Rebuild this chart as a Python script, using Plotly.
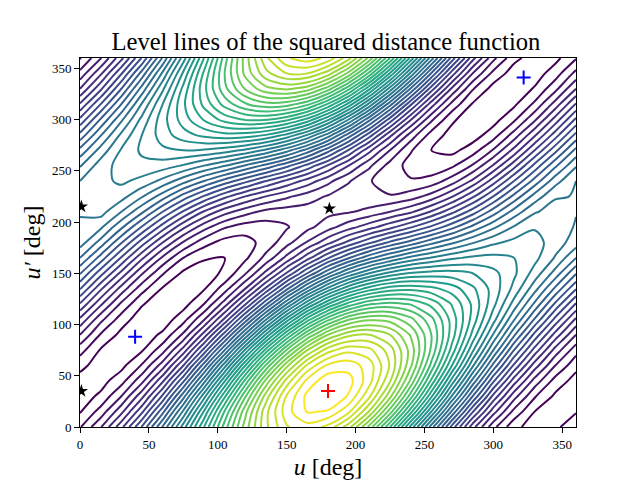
import plotly.graph_objects as go

u_deg = list(range(0, 361, 15))
up_deg = list(range(0, 361, 15))

# squared distance in units of one contour step, rows are u', columns are u
dist2 = [
    [1.9, 3.9, 6.7, 10.1, 14.1, 18.5, 23.0, 27.5, 31.5, 34.8, 36.9, 37.6, 36.7, 34.4, 30.7, 26.0, 20.7, 15.5, 10.6, 6.4, 3.3, 1.3, 0.5, 0.7, 1.9],
    [0.9, 2.4, 4.7, 7.8, 11.7, 16.2, 21.1, 26.1, 30.7, 34.7, 37.6, 39.1, 38.9, 37.2, 33.9, 29.5, 24.4, 19.0, 13.8, 9.1, 5.4, 2.7, 1.0, 0.5, 0.9],
    [0.5, 1.2, 3.0, 5.7, 9.2, 13.6, 18.6, 23.8, 28.9, 33.5, 37.1, 39.3, 39.9, 38.9, 36.2, 32.3, 27.5, 22.2, 16.9, 12.0, 7.7, 4.4, 2.1, 0.8, 0.5],
    [0.6, 0.6, 1.6, 3.7, 6.8, 10.8, 15.6, 20.9, 26.3, 31.3, 35.4, 38.3, 39.7, 39.4, 37.4, 34.1, 29.8, 24.8, 19.6, 14.7, 10.2, 6.5, 3.6, 1.6, 0.6],
    [1.3, 0.5, 0.7, 2.1, 4.5, 8.0, 12.5, 17.6, 23.0, 28.2, 32.7, 36.2, 38.2, 38.6, 37.5, 34.9, 31.2, 26.7, 22.0, 17.2, 12.7, 8.8, 5.5, 3.0, 1.3],
    [2.4, 0.9, 0.4, 0.9, 2.6, 5.4, 9.3, 14.0, 19.2, 24.4, 29.1, 33.0, 35.6, 36.7, 36.3, 34.5, 31.6, 27.8, 23.6, 19.2, 15.0, 11.0, 7.6, 4.6, 2.4],
    [4.0, 1.9, 0.7, 0.4, 1.2, 3.2, 6.4, 10.5, 15.2, 20.2, 24.9, 29.0, 32.0, 33.7, 34.0, 33.0, 30.9, 28.0, 24.5, 20.7, 16.9, 13.2, 9.7, 6.6, 4.0],
    [5.8, 3.3, 1.5, 0.4, 0.4, 1.6, 3.9, 7.2, 11.4, 15.9, 20.4, 24.5, 27.7, 29.9, 30.8, 30.6, 29.3, 27.3, 24.6, 21.6, 18.4, 15.1, 11.9, 8.7, 5.8],
    [7.9, 5.2, 2.8, 1.1, 0.3, 0.6, 2.0, 4.5, 7.9, 11.8, 15.9, 19.8, 23.0, 25.4, 26.9, 27.3, 26.9, 25.7, 23.9, 21.8, 19.3, 16.6, 13.8, 10.8, 7.9],
    [10.1, 7.2, 4.6, 2.4, 0.9, 0.3, 0.9, 2.5, 5.0, 8.2, 11.7, 15.2, 18.3, 20.8, 22.5, 23.5, 23.7, 23.3, 22.5, 21.2, 19.6, 17.7, 15.4, 12.8, 10.1],
    [12.1, 9.4, 6.7, 4.1, 2.1, 0.8, 0.5, 1.2, 2.9, 5.3, 8.1, 11.0, 13.8, 16.2, 18.0, 19.3, 20.1, 20.4, 20.4, 20.0, 19.3, 18.2, 16.6, 14.6, 12.1],
    [14.0, 11.6, 8.9, 6.2, 3.8, 2.0, 1.1, 1.0, 1.8, 3.3, 5.3, 7.6, 9.9, 11.9, 13.7, 15.1, 16.3, 17.1, 17.8, 18.2, 18.3, 18.0, 17.3, 15.9, 14.0],
    [15.5, 13.6, 11.1, 8.5, 6.0, 3.9, 2.4, 1.6, 1.6, 2.4, 3.6, 5.1, 6.7, 8.3, 9.8, 11.2, 12.4, 13.7, 14.8, 15.9, 16.8, 17.3, 17.4, 16.5, 15.5],
    [15.9, 15.2, 13.2, 10.9, 8.5, 6.2, 4.4, 3.1, 2.5, 2.5, 2.9, 3.7, 4.6, 5.6, 6.6, 7.7, 8.9, 10.2, 11.7, 13.3, 14.8, 16.1, 16.9, 16.6, 15.9],
    [16.05, 16.4, 15.0, 13.2, 11.0, 8.9, 6.9, 5.4, 4.4, 3.7, 3.5, 3.5, 3.7, 3.9, 4.3, 5.0, 5.8, 7.1, 8.7, 10.5, 12.5, 14.4, 15.9, 16.4, 16.05],
    [16.05, 16.6, 16.4, 15.1, 13.5, 11.6, 9.9, 8.3, 7.0, 6.0, 5.2, 4.5, 3.9, 3.4, 3.2, 3.1, 3.5, 4.4, 5.9, 7.8, 10.0, 12.3, 14.4, 15.9, 16.05],
    [16.0, 16.7, 17.2, 16.7, 15.7, 14.4, 13.0, 11.6, 10.3, 9.0, 7.8, 6.6, 5.3, 4.1, 3.1, 2.3, 2.1, 2.4, 3.5, 5.2, 7.5, 10.0, 12.4, 14.6, 16.0],
    [14.9, 16.5, 17.4, 17.7, 17.5, 16.9, 16.0, 15.1, 13.9, 12.7, 11.3, 9.7, 7.9, 6.0, 4.2, 2.6, 1.6, 1.3, 1.8, 3.1, 5.1, 7.6, 10.3, 12.8, 14.9],
    [13.3, 15.4, 17.1, 18.2, 18.8, 19.0, 18.9, 18.5, 17.8, 16.8, 15.4, 13.6, 11.4, 8.9, 6.3, 4.0, 2.1, 1.0, 0.7, 1.5, 3.1, 5.3, 8.0, 10.7, 13.3],
    [11.3, 13.9, 16.2, 18.0, 19.5, 20.6, 21.3, 21.7, 21.6, 21.0, 19.8, 18.0, 15.6, 12.6, 9.5, 6.3, 3.6, 1.6, 0.6, 0.5, 1.5, 3.4, 5.8, 8.5, 11.3],
    [9.2, 12.1, 14.8, 17.3, 19.6, 21.5, 23.1, 24.4, 25.1, 25.1, 24.3, 22.7, 20.2, 17.0, 13.3, 9.6, 6.1, 3.2, 1.2, 0.3, 0.6, 1.8, 3.8, 6.4, 9.2],
    [7.1, 10.0, 13.0, 16.1, 19.0, 21.8, 24.3, 26.4, 27.9, 28.7, 28.5, 27.3, 24.9, 21.7, 17.7, 13.4, 9.2, 5.5, 2.7, 0.9, 0.3, 0.8, 2.2, 4.4, 7.1],
    [5.0, 7.8, 11.0, 14.4, 17.8, 21.3, 24.7, 27.7, 30.1, 31.7, 32.2, 31.5, 29.5, 26.3, 22.2, 17.6, 12.9, 8.5, 4.8, 2.1, 0.6, 0.3, 1.1, 2.7, 5.0],
    [3.3, 5.8, 8.9, 12.4, 16.2, 20.2, 24.2, 28.0, 31.3, 33.7, 35.0, 35.0, 33.5, 30.7, 26.7, 21.9, 16.8, 11.9, 7.5, 4.0, 1.7, 0.5, 0.5, 1.5, 3.3],
    [1.9, 3.9, 6.7, 10.1, 14.1, 18.5, 23.0, 27.5, 31.5, 34.8, 36.9, 37.6, 36.7, 34.4, 30.7, 26.0, 20.7, 15.5, 10.6, 6.4, 3.3, 1.3, 0.5, 0.7, 1.9],
]

max_u = [180]
max_up = [35]
min_u = [40, 322]
min_up = [88, 341]
saddle_u = [1, 1, 181]
saddle_up = [35, 215, 213]

serif = "Liberation Serif"

fig = go.Figure()
fig.add_trace(go.Contour(
    x=u_deg, y=up_deg, z=dist2,
    autocontour=False,
    contours=dict(start=1, end=39, size=1, coloring="lines"),
    colorscale="Viridis", zmin=1, zmax=39,
    line=dict(width=2, smoothing=0.9),
    showscale=False,
))
fig.add_trace(go.Scatter(x=saddle_u, y=saddle_up, mode="markers",
                         marker=dict(symbol="star", size=10, color="black")))
fig.add_trace(go.Scatter(x=min_u, y=min_up, mode="markers",
                         marker=dict(symbol="cross-thin", size=10, line=dict(width=2, color="blue"))))
fig.add_trace(go.Scatter(x=max_u, y=max_up, mode="markers",
                         marker=dict(symbol="cross-thin", size=10, line=dict(width=2, color="red"))))

axis = dict(
    showgrid=False, zeroline=False, showline=True, mirror=True, automargin=False,
    linecolor="black", linewidth=1, ticks="outside", ticklen=5, tickcolor="black",
    tickfont=dict(family=serif, size=13, color="black"),
    range=[0, 360], dtick=50,
)
fig.update_xaxes(axis, title=dict(text="<i>u</i> [deg]", font=dict(family=serif, size=24, color="black")))
fig.update_yaxes(axis, title=dict(text="<i>u′</i> [deg]", font=dict(family=serif, size=24, color="black"), standoff=4))
fig.update_layout(
    width=632, height=472,
    margin=dict(l=72, r=64, t=50, b=53),
    paper_bgcolor="white", plot_bgcolor="white",
    showlegend=False,
    title=dict(text="Level lines of the squared distance function",
               font=dict(family=serif, size=24.6, color="black"),
               x=0.503, xanchor="center", y=0.93, yanchor="middle"),
)
fig.write_html("out.html")
